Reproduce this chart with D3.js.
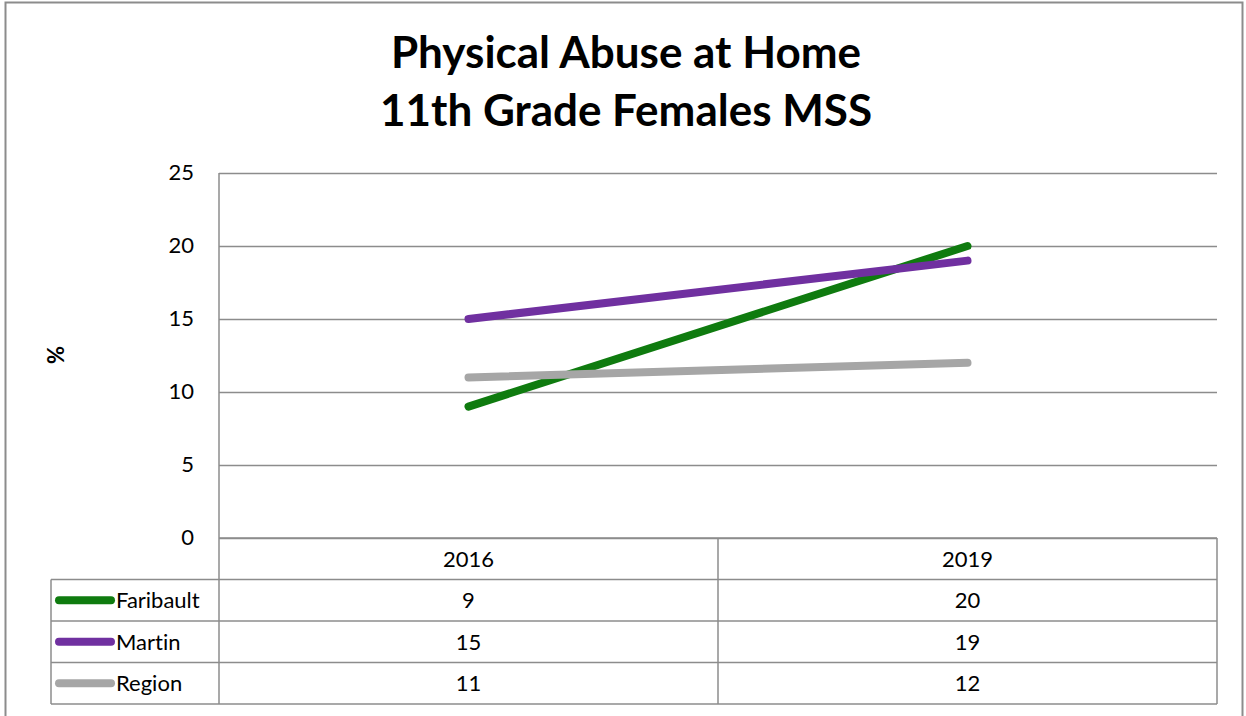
<!DOCTYPE html>
<html>
<head>
<meta charset="utf-8">
<script src="https://cdn.jsdelivr.net/npm/d3@7"></script>
<style>
body { margin: 0; background: #fff; }
text { font-family: Lato, "Open Sans", sans-serif; font-variant-ligatures: none; }
</style>
</head>
<body>
<div id="grafica"></div>
<script>
// datos
var years = ['2016', '2019'];
var seriesNames = ['Faribault', 'Martin', 'Region'];
var faribault = [9, 20];
var martin = [15, 19];
var region = [11, 12];
var yTicks = [0, 5, 10, 15, 20, 25];
var colores = ['#0f7b0f', '#7030a0', '#a6a6a6'];

var valores = [faribault, martin, region];

var svg = d3.select('#grafica')
	.append('svg')
	.attr('width', 1246)
	.attr('height', 716);

var gris = '#8c8c8c';
var izq = 219, der = 1217, arriba = 173, cero = 538;
var filaAlto = 41.5;

// marco exterior
svg.append('rect')
	.attr('x', 5.5).attr('y', 2.5)
	.attr('width', 1237).attr('height', 730)
	.attr('fill', 'none')
	.attr('stroke', gris)
	.attr('stroke-width', 2);

// titulo
svg.append('text')
	.attr('x', 626).attr('y', 68)
	.attr('text-anchor', 'middle')
	.attr('font-size', '44px')
	.attr('font-weight', 'bold')
	.text('Physical Abuse at Home');
svg.append('text')
	.attr('x', 626).attr('y', 126)
	.attr('text-anchor', 'middle')
	.attr('font-size', '44px')
	.attr('font-weight', 'bold')
	.text('11th Grade Females MSS');

var x = d3.scaleBand().domain(years).range([izq, der]);
var y = d3.scaleLinear().domain([0, 25]).range([cero, arriba]);

// lineas de cuadricula
svg.append('g')
	.attr('transform', 'translate(' + izq + ',0)')
	.call(d3.axisLeft(y).tickValues(yTicks).tickSize(-(der - izq)).tickFormat(''))
	.call(function (g) {
		g.select('.domain').remove();
		g.selectAll('line').attr('stroke', gris).attr('stroke-width', 1.5);
	});

// etiquetas eje y
svg.selectAll('.ylab')
	.data(yTicks)
	.enter().append('text')
	.attr('x', 194)
	.attr('y', function (d) { return y(d) + 7; })
	.attr('text-anchor', 'end')
	.attr('font-size', '22px')
	.text(function (d) { return d; });

svg.append('text')
	.attr('transform', 'translate(64,355) rotate(-90)')
	.attr('text-anchor', 'middle')
	.attr('font-size', '22px')
	.attr('font-weight', 'bold')
	.text('%');

// eje vertical
svg.append('line')
	.attr('x1', izq).attr('x2', izq)
	.attr('y1', arriba).attr('y2', cero + filaAlto * 4)
	.attr('stroke', gris).attr('stroke-width', 1.5);

// tabla de datos
var tablaIzq = 51;
for (var f = 0; f <= 4; f++) {
	svg.append('line')
		.attr('x1', f === 0 ? izq : tablaIzq).attr('x2', der)
		.attr('y1', cero + filaAlto * f).attr('y2', cero + filaAlto * f)
		.attr('stroke', gris).attr('stroke-width', 1.5);
}
svg.append('line')
	.attr('x1', tablaIzq).attr('x2', tablaIzq)
	.attr('y1', cero + filaAlto).attr('y2', cero + filaAlto * 4)
	.attr('stroke', gris).attr('stroke-width', 1.5);
years.forEach(function (yr, i) {
	svg.append('line')
		.attr('x1', x(yr) + x.bandwidth()).attr('x2', x(yr) + x.bandwidth())
		.attr('y1', cero).attr('y2', cero + filaAlto * 4)
		.attr('stroke', gris).attr('stroke-width', 1.5);
	svg.append('text')
		.attr('x', x(yr) + x.bandwidth() / 2)
		.attr('y', cero + filaAlto / 2 + 8)
		.attr('text-anchor', 'middle')
		.attr('font-size', '22px')
		.text(yr);
});

seriesNames.forEach(function (nombre, s) {
	var cy = cero + filaAlto * (s + 1) + filaAlto / 2;
	svg.append('line')
		.attr('x1', 59).attr('x2', 111)
		.attr('y1', cy).attr('y2', cy)
		.attr('stroke', colores[s])
		.attr('stroke-width', 8)
		.attr('stroke-linecap', 'round');
	svg.append('text')
		.attr('x', 116).attr('y', cy + 8)
		.attr('font-size', '22px')
		.text(nombre);
	valores[s].forEach(function (v, i) {
		svg.append('text')
			.attr('x', x(years[i]) + x.bandwidth() / 2)
			.attr('y', cy + 8)
			.attr('text-anchor', 'middle')
			.attr('font-size', '22px')
			.text(v);
	});
});

// lineas de series
var linea = d3.line()
	.x(function (d, i) { return x(years[i]) + x.bandwidth() / 2; })
	.y(function (d) { return y(d); });

valores.forEach(function (serie, s) {
	svg.append('path')
		.datum(serie)
		.attr('d', linea)
		.attr('fill', 'none')
		.attr('stroke', colores[s])
		.attr('stroke-width', 8)
		.attr('stroke-linecap', 'round');
});
</script>
</body>
</html>
